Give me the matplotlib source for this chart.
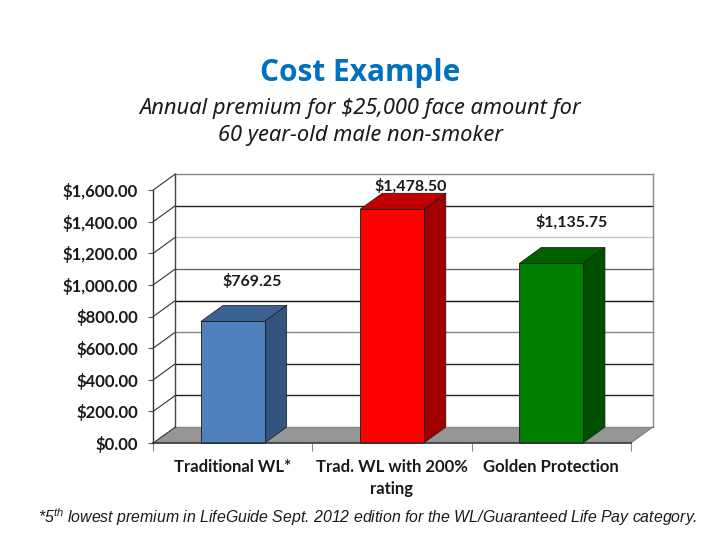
import matplotlib
matplotlib.use("Agg")
import matplotlib.pyplot as plt
from matplotlib.patches import Polygon

categories = ["Traditional WL*", "Trad. WL with 200%\nrating", "Golden Protection"]
values = [769.25, 1478.50, 1135.75]
value_labels = ["$769.25", "$1,478.50", "$1,135.75"]
y_ticks = [0, 200, 400, 600, 800, 1000, 1200, 1400, 1600]
y_tick_labels = ["$0.00", "$200.00", "$400.00", "$600.00", "$800.00",
                 "$1,000.00", "$1,200.00", "$1,400.00", "$1,600.00"]
front_colors = ["#4f81bd", "#ff0000", "#008000"]
top_colors = ["#3a6190", "#c00000", "#006000"]
side_colors = ["#33547c", "#a00000", "#005000"]
grid_colors = ["#888888", "#222222", "#222222", "#888888", "#111111", "#666666", "#c4c4c4", "#222222", "#888888"]

bar_width = 0.4
depth_x = 22 / 159.1    # 3d depth, category units
depth_y = 101           # 3d depth, dollars
label_font = "Lato"

plt.rcParams["mathtext.fontset"] = "custom"
plt.rcParams["mathtext.it"] = "Liberation Sans:italic"
plt.rcParams["mathtext.rm"] = "Liberation Sans:italic"
plt.rcParams["mathtext.default"] = "it"

fig = plt.figure(figsize=(7.2, 5.4), dpi=100)
ax = fig.add_axes([153.3 / 720, 97 / 540, 477.4 / 720, 253 / 540])
ax.set_xlim(0, 3)
ax.set_ylim(0, 1600)
for s in ax.spines.values():
    s.set_visible(False)
ax.patch.set_visible(False)

# floor
ax.add_patch(Polygon([(0, 0), (depth_x, depth_y), (3 + depth_x, depth_y), (3, 0)],
                     closed=True, fc="#969696", ec="none", clip_on=False, zorder=1))

# back wall and side wall grid
for t, c in zip(y_ticks, grid_colors):
    ax.plot([depth_x, 3 + depth_x], [t + depth_y, t + depth_y], color=c, lw=1, clip_on=False, zorder=2)
    ax.plot([0, depth_x], [t, t + depth_y], color="#333333", lw=0.8, clip_on=False, zorder=2)
ax.plot([depth_x, depth_x], [depth_y, 1600 + depth_y], color="#444444", lw=1, clip_on=False, zorder=2)
ax.plot([3 + depth_x, 3 + depth_x], [depth_y, 1600 + depth_y], color="#888888", lw=1, clip_on=False, zorder=2)
ax.plot([0, 0], [0, 1600], color="#333333", lw=1, clip_on=False, zorder=2)
ax.plot([0, 3], [0, 0], color="#333333", lw=1.2, clip_on=False, zorder=6)
ax.plot([3, 3 + depth_x], [0, depth_y], color="#777777", lw=0.8, clip_on=False, zorder=2)

# 3d bars
for i, v in enumerate(values):
    x0 = i + 0.5 - bar_width / 2
    x1 = x0 + bar_width
    ax.bar(x0, v, width=bar_width, align="edge", color=front_colors[i],
           edgecolor="#1a1a1a", linewidth=0.6, zorder=5, clip_on=False)
    ax.add_patch(Polygon([(x0, v), (x0 + depth_x, v + depth_y), (x1 + depth_x, v + depth_y), (x1, v)],
                         closed=True, fc=top_colors[i], ec="#1a1a1a", lw=0.5, clip_on=False, zorder=4))
    ax.add_patch(Polygon([(x1, 0), (x1 + depth_x, depth_y), (x1 + depth_x, v + depth_y), (x1, v)],
                         closed=True, fc=side_colors[i], ec="#1a1a1a", lw=0.5, clip_on=False, zorder=4))

# value labels
label_pos = [(252, 282), (411, 186), (572, 222)]
for (px, py), txt in zip(label_pos, value_labels):
    fig.text(px / 720, 1 - py / 540, txt, fontsize=11.5, fontweight="bold", family=label_font,
             color="#1a1a1a", ha="center", va="center")

ax.set_yticks(y_ticks)
ax.set_yticklabels(y_tick_labels, fontsize=12, fontweight="bold", family=label_font, color="#1a1a1a")
ax.tick_params(axis="y", length=3.6, width=0.8, color="#555555", pad=7.4)
ax.set_xticks([0, 1, 2, 3])
ax.set_xticklabels([])
ax.tick_params(axis="x", length=6, width=0.8, color="#888888")
for i, cat in enumerate(categories):
    ax.text(i + 0.5, -104, cat, fontsize=12, fontweight="bold", family=label_font,
            color="#1a1a1a", ha="center", va="top", linespacing=1.45, clip_on=False)

fig.text(360 / 720, 1 - 73 / 540, "Cost Example", fontsize=21.5, fontweight="bold",
         family="Open Sans", color="#0070c0", ha="center", va="center")
fig.text(360 / 720, 1 - 122 / 540, r"Annual premium for \$25,000 face amount for" + "\n60 year-old male non-smoker",
         fontsize=15.75, style="italic", family="Noto Sans", color="#1a1a1a",
         ha="center", va="center", linespacing=1.39)
fig.text(368 / 720, 1 - 517 / 540,
         r"*5$^{th}$ lowest premium in LifeGuide Sept. 2012 edition for the WL/Guaranteed Life Pay category.",
         fontsize=11.45, style="italic", family="Liberation Sans", color="#1a1a1a",
         ha="center", va="center")

fig.savefig("out.png", dpi=100)
